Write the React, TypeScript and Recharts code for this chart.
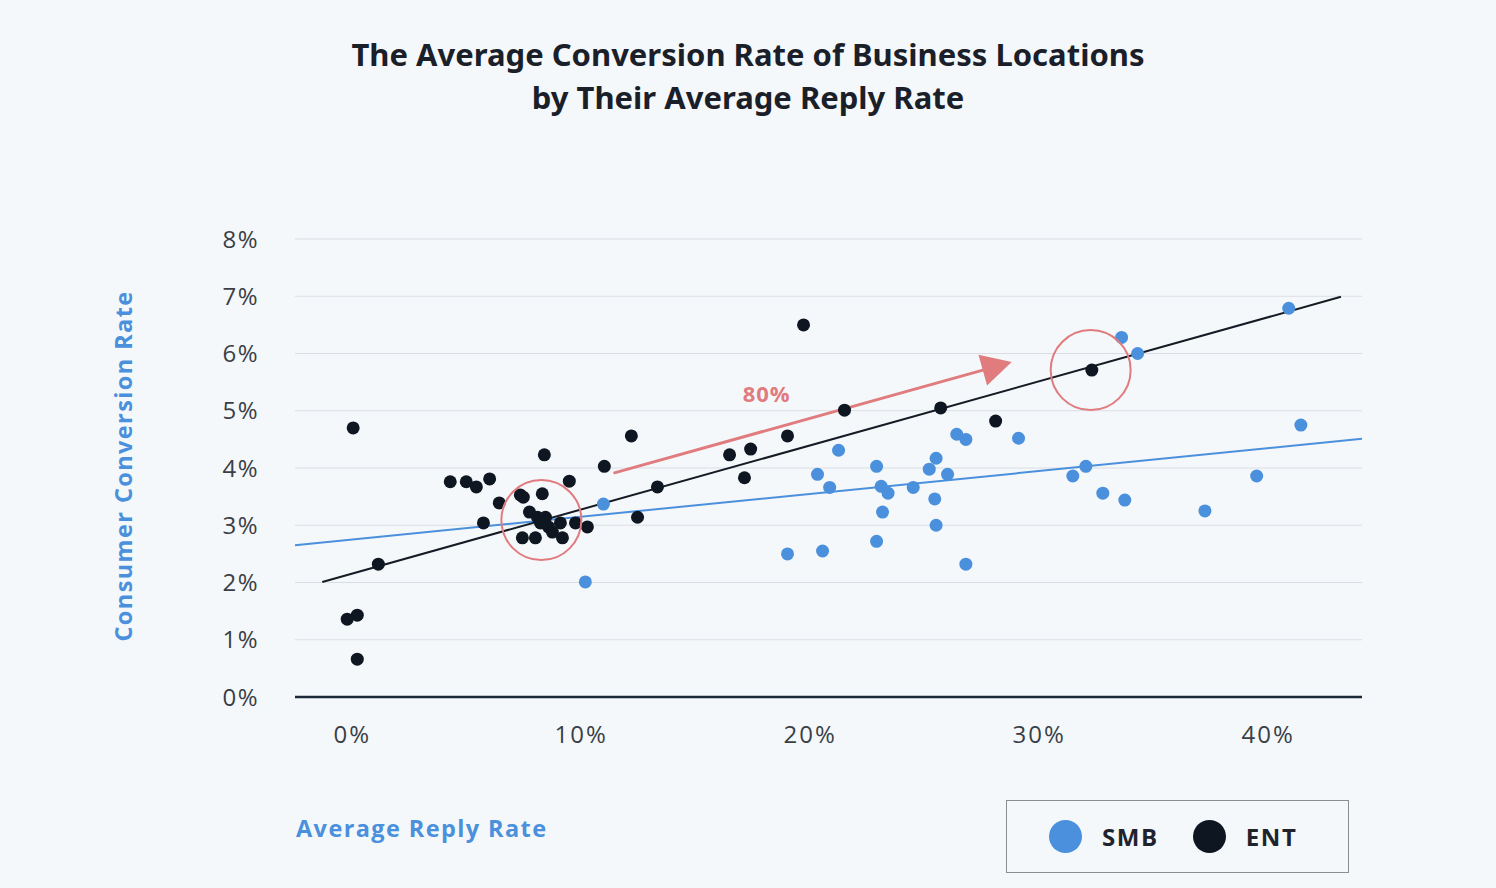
import React from "react";
import {
  ScatterChart,
  Scatter,
  XAxis,
  YAxis,
  CartesianGrid,
  ReferenceLine,
  ReferenceDot,
} from "recharts";

// reply rate (%) vs conversion rate (%)
const smbPoints = [
  { x: 10.18, y: 2.01 },
  { x: 10.97, y: 3.37 },
  { x: 19.01, y: 2.5 },
  { x: 20.32, y: 3.89 },
  { x: 20.85, y: 3.66 },
  { x: 21.24, y: 4.31 },
  { x: 20.54, y: 2.55 },
  { x: 22.9, y: 4.03 },
  { x: 23.1, y: 3.68 },
  { x: 23.4, y: 3.56 },
  { x: 23.16, y: 3.23 },
  { x: 22.9, y: 2.72 },
  { x: 24.5, y: 3.66 },
  { x: 25.2, y: 3.98 },
  { x: 25.5, y: 4.17 },
  { x: 25.44, y: 3.46 },
  { x: 25.5, y: 3.0 },
  { x: 26.0, y: 3.89 },
  { x: 26.4, y: 4.59 },
  { x: 26.8, y: 4.5 },
  { x: 26.8, y: 2.32 },
  { x: 29.1, y: 4.52 },
  { x: 31.47, y: 3.86 },
  { x: 32.04, y: 4.03 },
  { x: 32.78, y: 3.56 },
  { x: 33.74, y: 3.44 },
  { x: 33.6, y: 6.28 },
  { x: 34.3, y: 6.0 },
  { x: 37.24, y: 3.25 },
  { x: 39.5, y: 3.86 },
  { x: 40.9, y: 6.79 },
  { x: 41.43, y: 4.75 },
];

const entPoints = [
  { x: 0.04, y: 4.7 },
  { x: -0.22, y: 1.36 },
  { x: 0.22, y: 1.43 },
  { x: 0.22, y: 0.66 },
  { x: 1.14, y: 2.32 },
  { x: 4.28, y: 3.76 },
  { x: 4.98, y: 3.76 },
  { x: 5.42, y: 3.67 },
  { x: 6.0, y: 3.81 },
  { x: 6.42, y: 3.39 },
  { x: 5.73, y: 3.04 },
  { x: 7.34, y: 3.53 },
  { x: 7.47, y: 3.49 },
  { x: 8.39, y: 4.23 },
  { x: 8.3, y: 3.55 },
  { x: 9.48, y: 3.77 },
  { x: 7.74, y: 3.23 },
  { x: 8.09, y: 3.14 },
  { x: 8.44, y: 3.14 },
  { x: 8.22, y: 3.04 },
  { x: 8.57, y: 2.97 },
  { x: 8.74, y: 2.88 },
  { x: 9.09, y: 3.04 },
  { x: 9.75, y: 3.04 },
  { x: 10.27, y: 2.97 },
  { x: 7.43, y: 2.78 },
  { x: 8.0, y: 2.78 },
  { x: 9.18, y: 2.78 },
  { x: 11.01, y: 4.03 },
  { x: 12.19, y: 4.56 },
  { x: 12.46, y: 3.14 },
  { x: 13.33, y: 3.67 },
  { x: 16.48, y: 4.23 },
  { x: 17.13, y: 3.83 },
  { x: 17.4, y: 4.33 },
  { x: 19.01, y: 4.56 },
  { x: 19.71, y: 6.5 },
  { x: 21.5, y: 5.01 },
  { x: 25.7, y: 5.05 },
  { x: 28.1, y: 4.82 },
  { x: 32.3, y: 5.71 },
];

// trend line end points
const smbTrend = [
  { x: -2.5, y: 2.65 },
  { x: 44.1, y: 4.51 },
];
const entTrend = [
  { x: -1.31, y: 2.01 },
  { x: 43.18, y: 6.99 },
];

// annotation
const arrowSegment = [
  { x: 11.41, y: 3.91 },
  { x: 28.8, y: 5.85 },
];
const arrowLabel = { x: 18.1, y: 5.29, text: "80%" };
const highlights = [
  { x: 8.26, y: 3.09 },
  { x: 32.25, y: 5.71 },
];

const xTicks = [0, 10, 20, 30, 40];
const yTicks = [0, 1, 2, 3, 4, 5, 6, 7, 8];

const series = [
  { name: "SMB", color: "#4a90dc", data: smbPoints },
  { name: "ENT", color: "#0e1621", data: entPoints },
];

const RED = "#e07b7e";
const BLUE = "#4a90dc";
const FONT = "'Open Sans', 'Noto Sans', sans-serif";

const pct = (v: number) => `${v}%`;

const dotShape = (color: string) => (props: any) =>
  <circle cx={props.cx} cy={props.cy} r={6.5} fill={color} />;

const arrowShape = (props: any) => {
  const { x1, y1, x2, y2 } = props;
  const ang = Math.atan2(y2 - y1, x2 - x1);
  const len = 30;
  const half = 16;
  const bx = x2 - len * Math.cos(ang);
  const by = y2 - len * Math.sin(ang);
  const px = -Math.sin(ang) * half;
  const py = Math.cos(ang) * half;
  return (
    <g>
      <line x1={x1} y1={y1} x2={bx + 2 * Math.cos(ang)} y2={by + 2 * Math.sin(ang)} stroke={RED} strokeWidth={3} />
      <polygon points={`${x2},${y2} ${bx + px},${by + py} ${bx - px},${by - py}`} fill={RED} />
    </g>
  );
};

export default function App() {
  return (
    <div
      style={{
        position: "absolute",
        left: 0,
        top: 0,
        width: 1496,
        height: 888,
        background: "#f5f8fb",
        fontFamily: FONT,
        overflow: "hidden",
      }}
    >
      <div
        style={{
          position: "absolute",
          top: 33,
          left: 0,
          width: 1496,
          textAlign: "center",
          fontSize: 31,
          fontWeight: 700,
          lineHeight: "43px",
          color: "#1a1f29",
          fontFamily: "'Noto Sans', 'Open Sans', sans-serif",
        }}
      >
        The Average Conversion Rate of Business Locations
        <br />
        by Their Average Reply Rate
      </div>

      <ScatterChart
        width={1496}
        height={888}
        margin={{ top: 239, right: 134, bottom: 151, left: 235 }}
      >
        <CartesianGrid vertical={false} stroke="#dadee4" strokeWidth={1.2} />
        <XAxis
          type="number"
          dataKey="x"
          domain={[-2.5, 44.1]}
          ticks={xTicks}
          tickFormatter={pct}
          height={40}
          tickLine={false}
          tickMargin={23}
          axisLine={{ stroke: "#1c2838", strokeWidth: 2.5 }}
          tick={{ fill: "#3a3f47", fontSize: 24, letterSpacing: 2, fontFamily: FONT }}
          allowDataOverflow
        />
        <YAxis
          type="number"
          dataKey="y"
          domain={[0, 8]}
          ticks={yTicks}
          tickFormatter={pct}
          width={60}
          tickLine={false}
          axisLine={false}
          tickMargin={30}
          tick={{ fill: "#3a3f47", fontSize: 24, letterSpacing: 1.5, fontFamily: FONT }}
        />

        <ReferenceLine
          segment={smbTrend}
          stroke={BLUE}
          strokeWidth={2}
          ifOverflow="visible"
        />
        <ReferenceLine
          segment={entTrend}
          stroke="#151b24"
          strokeWidth={2}
          ifOverflow="visible"
        />

        {series.map((s) => (
          <Scatter
            key={s.name}
            name={s.name}
            data={s.data}
            fill={s.color}
            shape={dotShape(s.color)}
            isAnimationActive={false}
          />
        ))}

        <ReferenceLine segment={arrowSegment} shape={arrowShape} ifOverflow="visible" />
        {highlights.map((h, i) => (
          <ReferenceDot
            key={i}
            x={h.x}
            y={h.y}
            r={40}
            fill="none"
            stroke={RED}
            strokeWidth={2}
            ifOverflow="visible"
          />
        ))}
        <ReferenceDot
          x={arrowLabel.x}
          y={arrowLabel.y}
          r={1}
          fill="none"
          stroke="none"
          label={{
            value: arrowLabel.text,
            position: "center",
            fill: RED,
            fontSize: 22,
            fontWeight: 700,
            fontFamily: FONT,
            letterSpacing: 1,
          }}
        />
      </ScatterChart>

      <div
        style={{
          position: "absolute",
          left: 123,
          top: 466,
          transform: "translate(-50%, -50%) rotate(-90deg)",
          whiteSpace: "nowrap",
          color: BLUE,
          fontSize: 23.5,
          fontWeight: 700,
          letterSpacing: 1.4,
        }}
      >
        Consumer Conversion Rate
      </div>
      <div
        style={{
          position: "absolute",
          left: 296,
          top: 812,
          color: BLUE,
          fontSize: 23.5,
          fontWeight: 700,
          letterSpacing: 1.4,
          whiteSpace: "nowrap",
        }}
      >
        Average Reply Rate
      </div>

      <div
        style={{
          position: "absolute",
          left: 1006,
          top: 800,
          width: 343,
          height: 73,
          border: "1.5px solid #8a8d92",
          display: "flex",
          alignItems: "center",
          paddingLeft: 42,
          boxSizing: "border-box",
        }}
      >
        {series.map((s) => (
          <div key={s.name} style={{ display: "flex", alignItems: "center", marginRight: 34 }}>
            <span
              style={{
                display: "inline-block",
                width: 33,
                height: 33,
                borderRadius: "50%",
                background: s.color,
                marginRight: 20,
              }}
            />
            <span style={{ fontSize: 24, fontWeight: 700, color: "#1f242c", letterSpacing: 1.6 }}>
              {s.name}
            </span>
          </div>
        ))}
      </div>
    </div>
  );
}
